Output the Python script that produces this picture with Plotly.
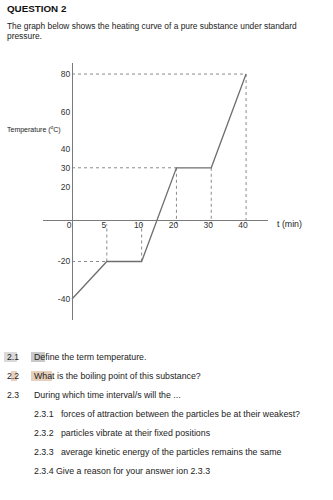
import plotly.graph_objects as go

# ---- data ----
times = ["0", "5", "10", "20", "30", "40"]          # t (min)
temps = [-40, -20, -20, 30, 30, 80]                 # Temperature (°C)
ytick_vals = [80, 60, 40, 30, 20, -20, -40]
horiz_guides = [1, 3, 5]        # points with dotted line back to the temperature axis
vert_guides = [1, 2, 3, 4, 5]   # points with dotted line down to the time axis

heading = "QUESTION 2"
intro = ["The graph below shows the heating curve of a pure substance under standard",
         "pressure."]
questions = [
    ("2.1", "Define the term temperature."),
    ("2.2", "What is the boiling point of this substance?"),
    ("2.3", "During which time interval/s will the ..."),
    ("", "2.3.1   forces of attraction between the particles be at their weakest?"),
    ("", "2.3.2   particles vibrate at their fixed positions"),
    ("", "2.3.3   average kinetic energy of the particles remains the same"),
    ("", "2.3.4 Give a reason for your answer ion 2.3.3"),
]

# ---- layout geometry (pixels) ----
W, H = 333, 500
L, R, T, B = 43, 268, 63, 320
def px(x):
    return (x - L) / (R - L)
def py(y):
    return (B - y) / (B - T)

FONT = "Liberation Sans, Arial, sans-serif"
TXT = "#222222"
fig = go.Figure()

# dotted guide lines
for i in horiz_guides:
    fig.add_trace(go.Scatter(x=[times[0], times[i]], y=[temps[i], temps[i]], mode="lines",
                             line=dict(color="#8a8a8a", width=1, dash="dot"),
                             hoverinfo="skip", showlegend=False))
for i in vert_guides:
    fig.add_trace(go.Scatter(x=[times[i], times[i]], y=[temps[i], 0], mode="lines",
                             line=dict(color="#8a8a8a", width=1, dash="dot"),
                             hoverinfo="skip", showlegend=False))

# heating curve
fig.add_trace(go.Scatter(x=times, y=temps, mode="lines",
                         line=dict(color="#6e6e6e", width=1.3),
                         showlegend=False, cliponaxis=False))

def note(text, x, y, size, color=TXT):
    return dict(text=text, x=px(x), y=py(y), xref="paper", yref="paper",
                xanchor="left", yanchor="middle", showarrow=False,
                font=dict(size=size, color=color, family=FONT))

annotations = [note("<b>" + heading + "</b>", 5, 8, 9.8, "#111")]
for k, line in enumerate(intro):
    annotations.append(note(line, 5, 26 + 10 * k, 8.4))
annotations.append(note("Temperature (<sup>o</sup>C)", 5, 129, 7))
annotations.append(note("t (min)", 275, 224, 8.8))
for k, (num, txt) in enumerate(questions):
    yy = 357 + 19 * k
    if num:
        annotations.append(note(num, 5, yy, 8.6))
    annotations.append(note(txt, 32, yy, 8.8))

# highlight marks on the questions
shapes = [
    dict(type="rect", xref="paper", yref="paper", x0=px(4), x1=px(17), y0=py(362), y1=py(352),
         fillcolor="rgba(150,150,150,0.35)", line=dict(width=0), layer="below"),
    dict(type="rect", xref="paper", yref="paper", x0=px(31), x1=px(45), y0=py(362), y1=py(352),
         fillcolor="rgba(120,120,120,0.4)", line=dict(width=0), layer="below"),
    dict(type="rect", xref="paper", yref="paper", x0=px(11), x1=px(17), y0=py(381), y1=py(371),
         fillcolor="rgba(205,150,110,0.45)", line=dict(width=0), layer="below"),
    dict(type="rect", xref="paper", yref="paper", x0=px(31), x1=px(52), y0=py(381), y1=py(371),
         fillcolor="rgba(205,160,120,0.5)", line=dict(width=0), layer="below"),
]

fig.update_layout(
    width=W, height=H,
    margin=dict(l=L, r=W - R, t=T, b=H - B),
    paper_bgcolor="white", plot_bgcolor="white",
    annotations=annotations, shapes=shapes,
    xaxis=dict(type="category", categoryorder="array", categoryarray=times,
               range=[-0.833, 5.63], anchor="free", position=py(220),
               showline=True, linecolor="#7a7a7a", linewidth=1.3,
               showgrid=False, zeroline=False, ticks="",
               ticklabelstandoff=-3, ticklabelshift=-3,
               tickfont=dict(size=8.5, color="#333", family=FONT)),
    yaxis=dict(range=[-51.2, 85.9], anchor="free", position=px(72),
               showline=True, linecolor="#7a7a7a", linewidth=1.3,
               showgrid=False, zeroline=False, ticks="",
               tickvals=ytick_vals, ticktext=[str(v) for v in ytick_vals],
               tickfont=dict(size=8.5, color="#333", family=FONT)),
    hovermode=False,
)

fig.write_html("out.html")
